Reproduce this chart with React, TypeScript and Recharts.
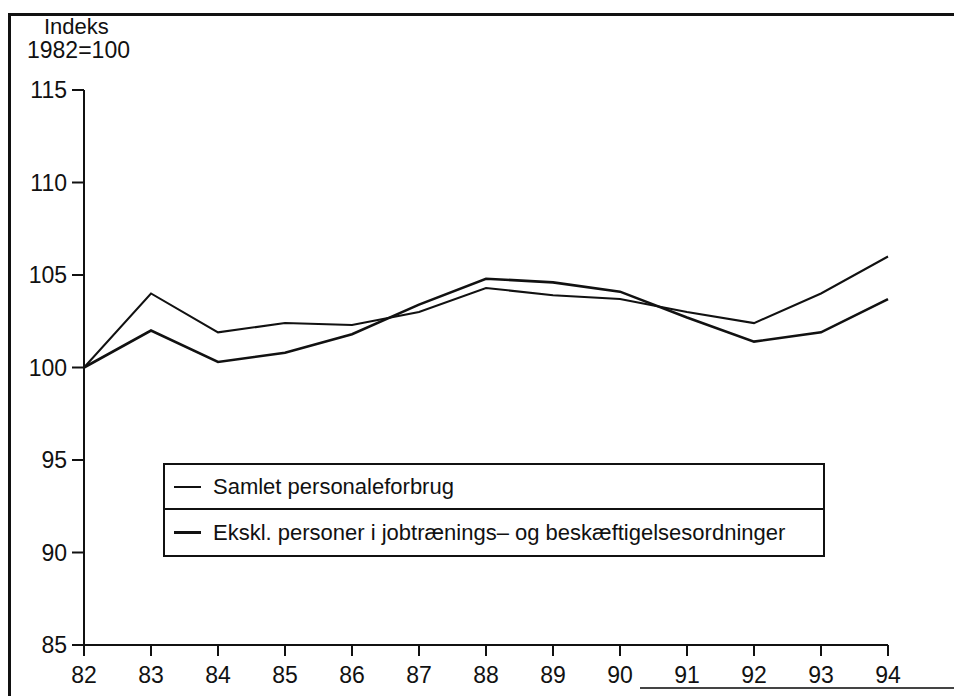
import { LineChart, Line, XAxis, YAxis } from 'recharts'

const years = ['82', '83', '84', '85', '86', '87', '88', '89', '90', '91', '92', '93', '94']
const samlet = [100, 104.0, 101.9, 102.4, 102.3, 103.0, 104.3, 103.9, 103.7, 103.0, 102.4, 104.0, 106.0]
const ekskl = [100, 102.0, 100.3, 100.8, 101.8, 103.4, 104.8, 104.6, 104.1, 102.7, 101.4, 101.9, 103.7]
const yTicks = [85, 90, 95, 100, 105, 110, 115]

const seriesNames = {
  samlet: 'Samlet personaleforbrug',
  ekskl: 'Ekskl. personer i jobtrænings\u2013 og beskæftigelsesordninger',
}

const data = years.map((year, i) => ({ year, samlet: samlet[i], ekskl: ekskl[i] }))

const ink = '#111'
const font = '"Liberation Sans", Arial, sans-serif'
const tickStyle = { fill: ink, fontSize: 23, fontFamily: font }

export default function App() {
  return (
    <div
      style={{
        position: 'fixed',
        left: 0,
        top: 0,
        width: 954,
        height: 696,
        background: '#fff',
        overflow: 'hidden',
        fontFamily: font,
        color: ink,
      }}
    >
      <div style={{ position: 'absolute', left: 44, top: 16, fontSize: 22, lineHeight: '22px' }}>Indeks</div>
      <div style={{ position: 'absolute', left: 27, top: 39, fontSize: 23, lineHeight: '23px' }}>1982=100</div>

      <div style={{ position: 'absolute', left: 0, top: 0 }}>
        <LineChart width={954} height={696} data={data} margin={{ top: 90, right: 66, left: 0, bottom: 21 }}>
          <XAxis
            dataKey="year"
            height={30}
            interval={0}
            stroke={ink}
            strokeWidth={2}
            tickSize={11}
            tickMargin={11}
            fontSize={23}
            tick={tickStyle}
          />
          <YAxis
            width={84}
            domain={[85, 115]}
            ticks={yTicks}
            interval={0}
            stroke={ink}
            strokeWidth={2}
            tickSize={12}
            tickMargin={5}
            fontSize={23}
            tick={tickStyle}
          />
          <Line dataKey="samlet" name={seriesNames.samlet} stroke={ink} strokeWidth={2} dot={false} isAnimationActive={false} />
          <Line dataKey="ekskl" name={seriesNames.ekskl} stroke={ink} strokeWidth={2.6} dot={false} isAnimationActive={false} />
        </LineChart>
      </div>

      {/* legend box */}
      <div
        style={{
          position: 'absolute',
          left: 163,
          top: 463,
          width: 658,
          height: 90,
          border: `2px solid ${ink}`,
          background: '#fff',
          fontSize: 22,
          whiteSpace: 'nowrap',
        }}
      >
        <div style={{ height: 43, borderBottom: `2px solid ${ink}`, display: 'flex', alignItems: 'center' }}>
          <span style={{ display: 'inline-block', width: 27, marginLeft: 9, borderTop: `2px solid ${ink}` }} />
          <span style={{ marginLeft: 12 }}>{seriesNames.samlet}</span>
        </div>
        <div style={{ height: 45, display: 'flex', alignItems: 'center' }}>
          <span style={{ display: 'inline-block', width: 27, marginLeft: 9, borderTop: `3px solid ${ink}` }} />
          <span style={{ marginLeft: 12 }}>{seriesNames.ekskl}</span>
        </div>
      </div>

      {/* page frame */}
      <div style={{ position: 'absolute', left: 8, top: 13, width: 946, height: 3, background: ink, zIndex: 5 }} />
      <div style={{ position: 'absolute', left: 8, top: 13, width: 3, height: 683, background: ink, zIndex: 5 }} />
      <div style={{ position: 'absolute', left: 640, top: 687, width: 314, height: 2, background: '#444', zIndex: 5 }} />
    </div>
  )
}
